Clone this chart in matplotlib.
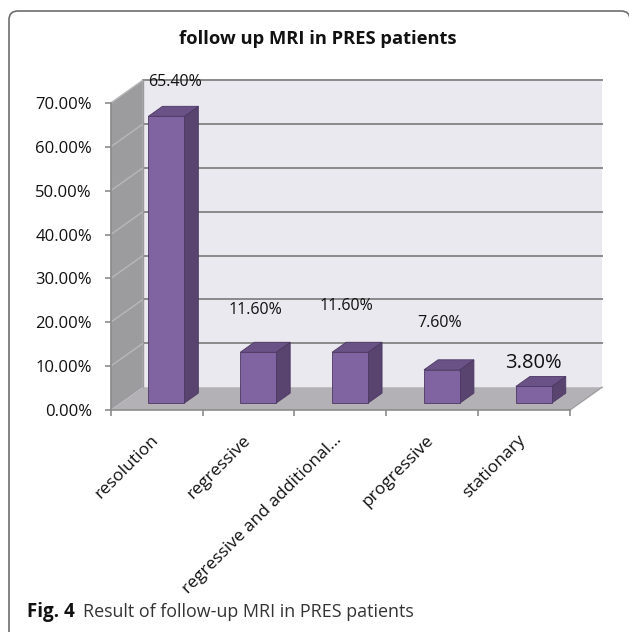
import matplotlib
matplotlib.use("Agg")
import matplotlib.pyplot as plt
from matplotlib.patches import Polygon, FancyBboxPatch

# Data
categories = ["resolution", "regressive", "regressive and additional...",
              "progressive", "stationary"]
values = [65.4, 11.6, 11.6, 7.6, 3.8]
value_labels = ["65.40%", "11.60%", "11.60%", "7.60%", "3.80%"]
y_ticks = [0, 10, 20, 30, 40, 50, 60, 70]
y_tick_labels = ["0.00%", "10.00%", "20.00%", "30.00%", "40.00%",
                 "50.00%", "60.00%", "70.00%"]

# Label placement (offsets from bar centre / top) and sizes
label_dx = [0.10, -0.03, -0.04, -0.02, 0.0]
label_lift = [7.9, 9.6, 10.5, 10.7, 5.3]
label_size = [11.5, 11.5, 11.5, 11.5, 14.5]

# Oblique depth of the 3-D box (category units, percent units)
DX, DY = 0.35, 5.2
YMAX = 70
N = len(categories)
FONT = "Open Sans"

fig = plt.figure(figsize=(6.29, 6.32), dpi=100)
fig.patch.set_facecolor("white")

# Rounded frame around the figure
frame = FancyBboxPatch((9 / 629, -0.05), (630 - 9) / 629, 1 - 11 / 632 + 0.05,
                       boxstyle="round,pad=0,rounding_size=0.014",
                       transform=fig.transFigure, fill=False,
                       edgecolor="#6e6e6e", linewidth=1.2, clip_on=False)
fig.patches.append(frame)

ax = fig.add_axes([110.7 / 629, 1 - 410 / 632, 459.3 / 629, 307 / 632])
ax.set_xlim(0, N)
ax.set_ylim(0, YMAX)
for s in ax.spines.values():
    s.set_visible(False)
ax.patch.set_visible(False)

def add_poly(pts, fc, ec="none", lw=0.0, z=1):
    p = Polygon(pts, closed=True, facecolor=fc, edgecolor=ec, linewidth=lw,
                zorder=z, clip_on=False)
    ax.add_patch(p)

# Back wall, side wall and floor
add_poly([(DX, DY), (N + DX, DY), (N + DX, YMAX + DY), (DX, YMAX + DY)],
         "#ebe9f0", z=0.5)
add_poly([(0, 0), (DX, DY), (DX, YMAX + DY), (0, YMAX)], "#9c9c9e", z=0.6)
add_poly([(0, 0), (N, 0), (N + DX, DY), (DX, DY)], "#b3b0b6", z=0.6)

# Gridlines on walls
for t in y_ticks[1:]:
    ax.plot([DX, N + DX], [t + DY, t + DY], color="#8a8a8a", lw=1.4,
            zorder=0.7, clip_on=False)
    ax.plot([0, DX], [t, t + DY], color="#b8b8b8", lw=1.0, zorder=0.7,
            clip_on=False)
# Wall edges
ax.plot([DX, DX], [DY, YMAX + DY], color="#9a9a9a", lw=1.0, zorder=0.7,
        clip_on=False)
ax.plot([N, N + DX], [0, DY], color="#a0a0a0", lw=1.0, zorder=0.7,
        clip_on=False)

# Front axes lines and ticks
ax.plot([0, 0], [0, YMAX], color="#8c8c8c", lw=1.2, zorder=3, clip_on=False)
ax.plot([0, N], [0, 0], color="#8c8c8c", lw=1.2, zorder=3, clip_on=False)
ax.set_xticks(range(N + 1))
ax.set_xticklabels([])
ax.set_yticks(y_ticks)
ax.set_yticklabels(y_tick_labels, fontsize=12, family=FONT, color="#111111")
ax.tick_params(axis="both", length=4.5, width=1.2, color="#8c8c8c",
               direction="out", pad=3)
ax.tick_params(axis="y", pad=9)

# 3-D bars
BW = 0.39
F0 = 0.30  # depth fraction where bar front sits
FD = 0.44  # depth fraction of bar thickness
front_c = "#8064a2"
side_c = "#59436f"
top_c = "#6a5287"
edge_c = "#4b3862"
for i, v in enumerate(values):
    x0 = i + 0.5 - BW / 2 + F0 * DX
    x1 = x0 + BW
    y0 = F0 * DY
    y1 = v + F0 * DY
    ddx, ddy = FD * DX, FD * DY
    add_poly([(x1, y0), (x1 + ddx, y0 + ddy), (x1 + ddx, y1 + ddy), (x1, y1)],
             side_c, edge_c, 0.6, z=2)
    add_poly([(x0, y1), (x1, y1), (x1 + ddx, y1 + ddy), (x0 + ddx, y1 + ddy)],
             top_c, edge_c, 0.6, z=2)
    add_poly([(x0, y0), (x1, y0), (x1, y1), (x0, y1)], front_c, edge_c, 0.6,
             z=2.1)
    ax.text(i + 0.5 + F0 * DX + label_dx[i], v + label_lift[i] + F0 * DY,
            value_labels[i], ha="center", va="center",
            fontsize=label_size[i], family=FONT, color="#111111", zorder=4)

# Category labels, rotated
for i, c in enumerate(categories):
    ax.text(i + 0.43, -5.0, c, rotation=45, ha="right", va="top",
            rotation_mode="anchor", fontsize=12.5, family=FONT,
            color="#111111")

# Title
fig.text(318 / 629, 1 - 39 / 632, "follow up MRI in PRES patients",
         ha="center", va="center", fontsize=13.2, fontweight="bold",
         family=FONT, color="#111111")

# Caption
cap_y = 1 - 612 / 632
t1 = fig.text(27 / 629, cap_y, "Fig. 4", ha="left", va="center",
              fontsize=13.5, fontweight="bold", family=FONT, color="#111111")
fig.canvas.draw()
bb = t1.get_window_extent()
fig.text((bb.x1 + 8) / 629, cap_y, "Result of follow-up MRI in PRES patients",
         ha="left", va="center", fontsize=12.9, family=FONT, color="#333333")

fig.savefig("out.png", dpi=100, facecolor="white")
